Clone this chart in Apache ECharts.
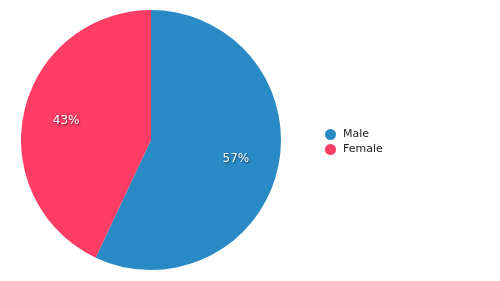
<!DOCTYPE html>
<html><head><meta charset="utf-8">
<script src="https://cdn.jsdelivr.net/npm/echarts@6/dist/echarts.min.js"></script>
<style>html,body{margin:0;padding:0;background:#fff}#c{width:500px;height:281px}</style>
</head><body><div id="c"></div>
<script>
const categories = ['Male', 'Female'];
const values = [57, 43];
const colors = ['#2a8ac6', '#fd3d64'];

const data = categories.map((n, i) => ({ name: n, value: values[i], itemStyle: { color: colors[i] } }));
const chart = echarts.init(document.getElementById('c'));
chart.setOption({
  animation: false,
  legend: {
    orient: 'vertical', left: 320, top: 124,
    icon: 'circle', itemWidth: 11, itemHeight: 11, itemGap: 4,
    textStyle: { fontFamily: 'DejaVu Sans', fontSize: 11, color: '#222', padding: [0, 0, 0, 2] },
    data: categories
  },
  series: [
    {
      type: 'pie', center: [151, 140], radius: [0, 130],
      startAngle: 90, clockwise: true,
      label: { show: false }, labelLine: { show: false },
      data: data
    },
    {
      type: 'pie', center: [151, 140], radius: [0, 168],
      startAngle: 90, clockwise: true, silent: true,
      itemStyle: { color: 'rgba(0,0,0,0)' },
      label: {
        show: true, position: 'inside',
        formatter: p => p.value + '%',
        fontFamily: 'DejaVu Sans', fontSize: 12, color: '#fff',
        textShadowColor: 'rgba(0,0,0,0.6)', textShadowBlur: 2, textShadowOffsetX: 1, textShadowOffsetY: 1
      },
      labelLine: { show: false },
      data: categories.map((n, i) => ({ name: n, value: values[i], itemStyle: { color: 'rgba(0,0,0,0)' } }))
    }
  ]
});
</script></body></html>
